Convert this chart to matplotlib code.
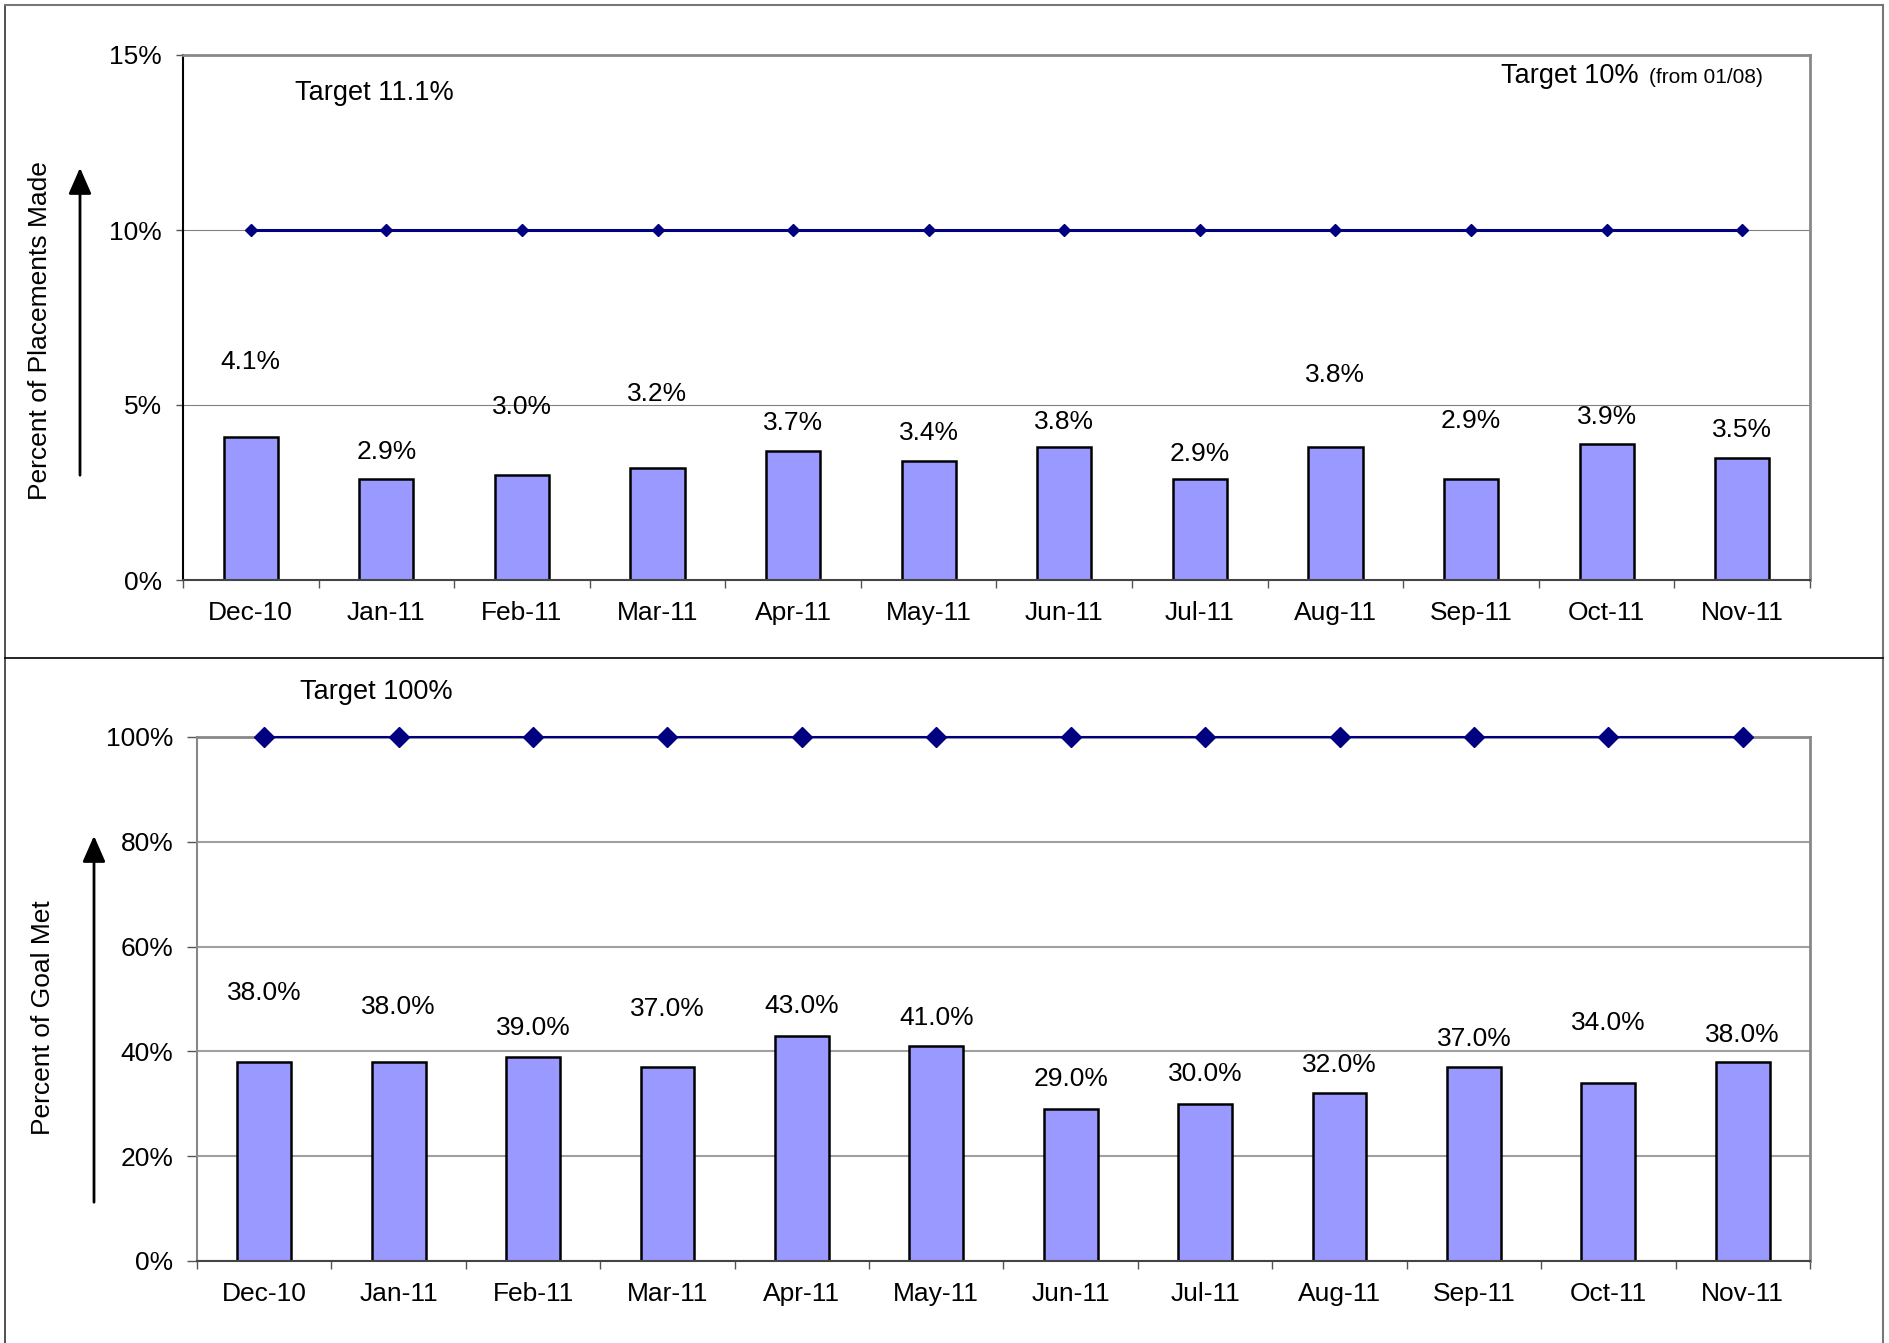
import matplotlib.pyplot as plt
from matplotlib.lines import Line2D
import numpy as np

plt.rcParams['font.family'] = ['Liberation Sans', 'DejaVu Sans']

months = ['Dec-10', 'Jan-11', 'Feb-11', 'Mar-11', 'Apr-11', 'May-11',
          'Jun-11', 'Jul-11', 'Aug-11', 'Sep-11', 'Oct-11', 'Nov-11']

# percent of placements made
placements = [4.1, 2.9, 3.0, 3.2, 3.7, 3.4, 3.8, 2.9, 3.8, 2.9, 3.9, 3.5]
placements_target = [10] * 12
# where each value label sits (axis units)
placements_lbl_y = [6.24, 3.65, 4.95, 5.31, 4.48, 4.21, 4.52, 3.59, 5.86, 4.55, 4.65, 4.28]

# percent of goal met
goal_met = [38.0, 38.0, 39.0, 37.0, 43.0, 41.0, 29.0, 30.0, 32.0, 37.0, 34.0, 38.0]
goal_target = [100] * 12
goal_lbl_y = [51.2, 48.4, 44.5, 48.0, 48.7, 46.4, 34.7, 35.6, 37.4, 42.4, 45.4, 43.1]

W, H = 1890, 1343
BAR = '#9999FF'
NAVY = '#000080'
FS = 19


def fx(px):
    return px / W


def fy(py):
    return 1 - py / H


fig = plt.figure(figsize=(W / 100, H / 100), dpi=100)

ax1 = fig.add_axes([fx(183), fy(580), fx(1810) - fx(183), fy(55) - fy(580)])
ax2 = fig.add_axes([fx(197), fy(1261), fx(1810) - fx(197), fy(737) - fy(1261)])

x = np.arange(len(months))


def style_axes(ax, ymax, step, grid_col, grid_lw, left_col, ytick_len):
    ax.set_xlim(-0.5, len(months) - 0.5)
    ax.set_ylim(0, ymax)
    ax.set_yticks(np.arange(0, ymax + step / 2, step))
    ax.yaxis.set_major_formatter(plt.FuncFormatter(lambda v, p: f'{v:.0f}%'))
    ax.set_xticks(x)
    ax.set_xticklabels(months)
    ax.set_xticks(np.arange(-0.5, len(months)), minor=True)
    ax.tick_params(axis='x', which='major', length=0, pad=15, labelsize=FS)
    ax.tick_params(axis='x', which='minor', length=6, width=1, color='#555555', direction='out')
    ax.tick_params(axis='y', length=ytick_len, width=1, color='#555555', pad=10, labelsize=FS)
    ax.grid(axis='y', color=grid_col, linewidth=grid_lw)
    ax.set_axisbelow(True)
    for s in ['top', 'right']:
        ax.spines[s].set_color('#888888')
        ax.spines[s].set_linewidth(2)
    ax.spines['bottom'].set_color('#444444')
    ax.spines['bottom'].set_linewidth(1.5)
    ax.spines['left'].set_color(left_col)
    ax.spines['left'].set_linewidth(1.5)


# top panel
style_axes(ax1, 15, 5, '#808080', 0.8, 'black', 5)
ax1.bar(x, placements, width=0.4, color=BAR, edgecolor='black', linewidth=1.8, zorder=2)
ax1.plot(x, placements_target, color=NAVY, linewidth=2.2, marker='D', markersize=6, zorder=3)
for i, v in enumerate(placements):
    ax1.text(i, placements_lbl_y[i], f'{v:.1f}%', ha='center', va='center', fontsize=FS)

# bottom panel
style_axes(ax2, 100, 20, '#A0A0A0', 1.5, '#888888', 7)
ax2.bar(x, goal_met, width=0.4, color=BAR, edgecolor='black', linewidth=1.8, zorder=2)
ax2.plot(x, goal_target, color=NAVY, linewidth=1.5, marker='D', markersize=9.8,
         zorder=3, clip_on=False)
for i, v in enumerate(goal_met):
    ax2.text(i, goal_lbl_y[i], f'{v:.1f}%', ha='center', va='center', fontsize=FS)

# target notes
fig.text(fx(374), fy(100), 'Target 11.1%', ha='center', va='baseline', fontsize=19.5)
fig.text(fx(1639), fy(83), 'Target 10%', ha='right', va='baseline', fontsize=19.5)
fig.text(fx(1763), fy(83), '(from 01/08)', ha='right', va='baseline', fontsize=15)
fig.text(fx(376), fy(699), 'Target 100%', ha='center', va='baseline', fontsize=19.5)

# y labels with arrows
fig.text(fx(40), fy(331), 'Percent of Placements Made', rotation=90,
         ha='center', va='center', fontsize=FS)
fig.text(fx(43), fy(1018), 'Percent of Goal Met', rotation=90,
         ha='center', va='center', fontsize=FS)
arrow = dict(arrowstyle='-|>,head_length=0.8,head_width=0.35', color='black',
             linewidth=2, mutation_scale=20)
fig.add_artist(plt.Annotation('', xy=(fx(80), fy(165)), xytext=(fx(80), fy(478)),
                              xycoords='figure fraction', arrowprops=arrow))
fig.add_artist(plt.Annotation('', xy=(fx(94), fy(833)), xytext=(fx(94), fy(1205)),
                              xycoords='figure fraction', arrowprops=arrow))

# chart area borders
fig.add_artist(Line2D([fx(5), fx(5)], [fy(5), fy(1343)], color='#333333', linewidth=1.2))
fig.add_artist(Line2D([fx(5), fx(1883)], [fy(5), fy(5)], color='#777777', linewidth=1.5))
fig.add_artist(Line2D([fx(1883), fx(1883)], [fy(5), fy(1343)], color='#777777', linewidth=1.5))
fig.add_artist(Line2D([fx(5), fx(1883)], [fy(658), fy(658)], color='black', linewidth=1.2))

fig.savefig('out.png', dpi=100)
